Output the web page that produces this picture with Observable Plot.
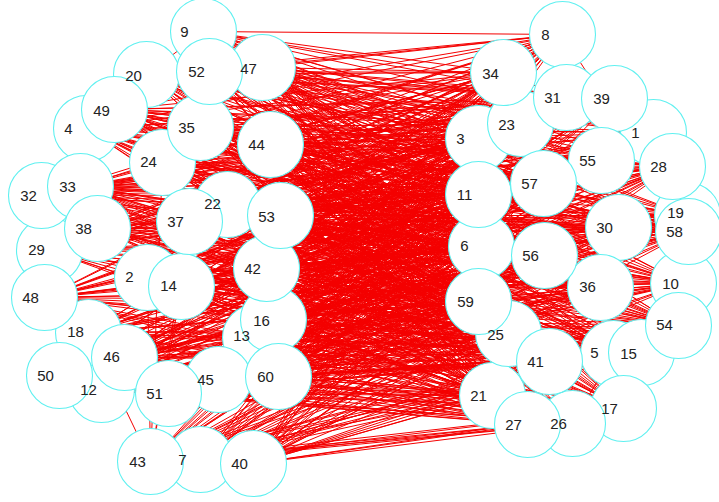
<!DOCTYPE html>
<html>
<head>
<meta charset="utf-8">
<script src="https://cdn.jsdelivr.net/npm/d3@7"></script>
<script src="https://cdn.jsdelivr.net/npm/@observablehq/plot@0.6"></script>
<style>html,body{margin:0;padding:0;background:#fff}svg{display:block}</style>
</head>
<body>
<div id="chart"></div>
<script>
const nodeIds = d3.range(1, 61);
const nodeX = [653,147,478,86,613,481,200,562,203,683,478,101,255,181,641,273,623,88,687,146,492,227,520,162,508,572,527,672,49,618,566,41,80,503,200,600,189,97,614,253,549,266,150,270,218,124,262,44,114,59,168,209,280,678,601,544,543,688,478,278];
const nodeY = [132,277,138,128,353,246,459,34,31,283,194,389,337,286,352,319,408,332,215,74,395,204,123,162,333,423,424,166,250,227,97,195,186,72,127,287,221,228,98,463,361,268,461,144,379,357,67,297,109,375,393,71,215,325,160,255,183,231,301,376];
const labelX = [635,129,460,68,594,464,182,545,184,670,464,88,241,168,628,261,609,75,675,133,478,212,506,148,495,558,513,658,36,604,552,28,67,490,186,587,175,83,601,239,535,252,137,256,205,111,248,30,101,45,154,196,266,664,587,530,529,674,465,265];
const labelY = [133,277,139,129,353,246,460,35,32,284,195,390,336,286,354,321,409,332,213,76,396,204,125,162,335,424,425,167,250,228,98,196,187,74,128,287,222,229,99,464,362,269,462,145,380,357,69,298,111,376,394,72,217,325,161,256,184,232,302,377];
const leftIds = [9,52,47,20,49,4,35,44,24,33,32,38,37,22,53,29,48,2,14,42,16,13,18,46,50,12,51,45,60,43,7,40];
const rightIds = [8,34,31,39,1,23,3,55,28,57,11,30,19,58,6,56,36,10,54,59,25,41,5,15,17,21,26,27];
const sameSideEdges = [[9,20],[43,18],[43,2],[43,14],[43,24],[43,37],[8,58],[17,5],[26,5]];

const edges = d3.cross(leftIds, rightIds).concat(sameSideEdges).map(([a, b]) => ({
  x1: nodeX[a - 1], y1: nodeY[a - 1], x2: nodeX[b - 1], y2: nodeY[b - 1]
}));
const nodes = nodeIds.map((id, i) => ({id, x: nodeX[i], y: nodeY[i], lx: labelX[i], ly: labelY[i]}));

const chart = Plot.plot({
  width: 719, height: 502,
  margin: 0,
  x: {domain: [0, 719], range: [0, 719], axis: null},
  y: {domain: [0, 502], range: [0, 502], axis: null},
  style: {background: "#fff"},
  marks: [
    Plot.link(edges, {x1: "x1", y1: "y1", x2: "x2", y2: "y2", stroke: "#f40000", strokeWidth: 1}),
    Plot.dot(nodes, {x: "x", y: "y", r: 33, fill: "#fff", stroke: "#5ff0f0", strokeWidth: 1.1}),
    Plot.text(nodes, {x: "lx", y: "ly", text: "id", fontSize: 15, fill: "#222", fontFamily: "Liberation Sans, Arial, sans-serif"})
  ]
});
document.getElementById("chart").append(chart);
</script>
</body>
</html>
